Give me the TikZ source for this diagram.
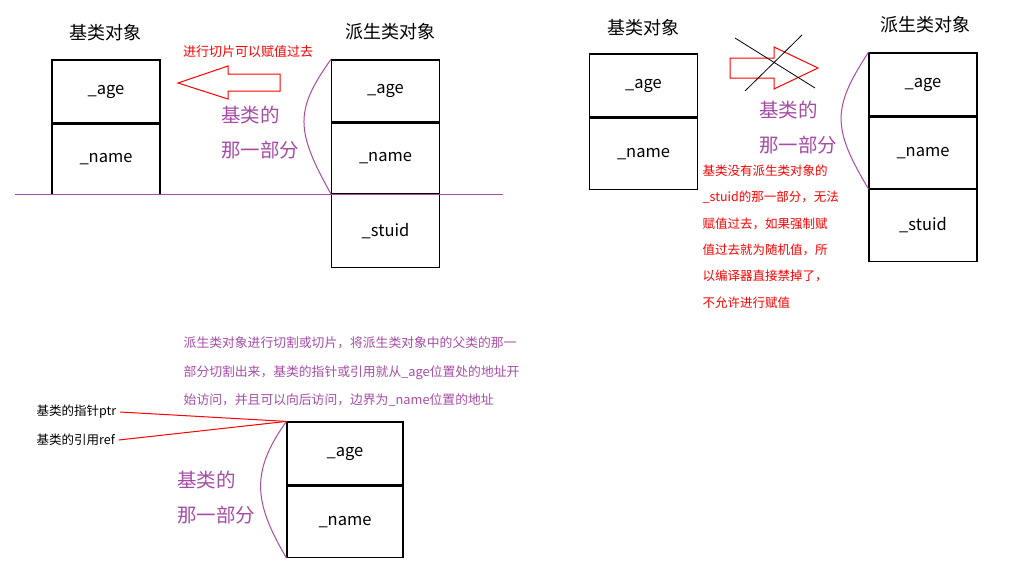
\documentclass[tikz,border=0pt]{standalone}
\usepackage{fontspec}
\setmainfont{Noto Sans CJK SC}
\usetikzlibrary{positioning}
\begin{document}
\begin{tikzpicture}[x=1pt,y=-1pt,thick,
		cell/.style={draw,line width=1.2pt,minimum width=108pt,minimum height=65pt,inner sep=0pt,font=\fontsize{16.5}{18}\selectfont},
		title/.style={font=\fontsize{18}{20}\selectfont},
		part/.style={text=violet!70,font=\fontsize{19.5}{35}\selectfont,align=left},
		note/.style={anchor=north west,align=left,font=\fontsize{12.5}{20}\selectfont},
		brace/.style={violet!70,line width=1pt},
		slice/.style={draw=red,line width=1pt}]
\useasboundingbox (0,0) rectangle (1022,570);

% left: slicing allowed
\node[cell,minimum height=63pt] (LA) at (106,91.5) {\_age};
\node[cell,minimum height=70pt] (LN) [below=0pt of LA] {\_name};
\node[title] (LT) at (105,33) {基类对象};
\node[cell,minimum height=62pt] (DA) at (385.5,91) {\_age};
\node[cell,minimum height=70pt] (DN) [below=0pt of DA] {\_name};
\node[cell,minimum height=73pt] (DS) [below=0pt of DN] {\_stuid};
\node[title] (DT) at (390,32) {派生类对象};
\node[text=red,font=\fontsize{13}{15}\selectfont] (LM) at (248,52) {进行切片可以赋值过去};
\node[part] (LP) at (260,133) {基类的\\那一部分};
\draw[violet!70,line width=1pt] (15,194) -- (503,194);
\draw[slice] (178,83) -- (228,66) -- (228,74) -- (280,74) -- (280,91) -- (228,91) -- (228,99) -- cycle;
\draw[brace] (DA.north west) .. controls (295,110) and (295,130) .. (DN.south west);

% right: slicing refused
\node[cell,minimum height=63pt] (RA) at (643.5,85.5) {\_age};
\node[cell,minimum height=71pt] (RN) [below=0pt of RA] {\_name};
\node[title] (RT) at (643,28) {基类对象};
\node[cell,minimum height=63pt] (EA) at (923,84.5) {\_age};
\node[cell,minimum height=71pt] (EN) [below=0pt of EA] {\_name};
\node[cell,minimum height=72pt] (ES) [below=0pt of EN] {\_stuid};
\node[title] (ET) at (925,25) {派生类对象};
\draw[slice] (730,58) -- (774,58) -- (774,47) -- (818,68) -- (774,89) -- (774,78) -- (730,78) -- cycle;
\coordinate (X1) at (735,38);
\coordinate (X2) at (815,88);
\coordinate (X3) at (745,91);
\coordinate (X4) at (802,35);
\draw[line width=0.8pt] (X1) -- (X2) (X3) -- (X4);
\node[part] (RP) at (798,128) {基类的\\那一部分};
\draw[brace] (EA.north west) .. controls (832,108) and (832,128) .. (EN.south west);
\node[note,text=red,font=\fontsize{12.5}{26.4}\selectfont] (RM) at (699,161) {基类没有派生类对象的\\\_stuid的那一部分，无法\\赋值过去，如果强制赋\\值过去就为随机值，所\\以编译器直接禁掉了，\\不允许进行赋值};

% bottom: pointer and reference
\node[cell,minimum width=116pt,minimum height=63pt] (BA) at (345,453.5) {\_age};
\node[cell,minimum width=116pt,minimum height=71pt] (BN) [below=0pt of BA] {\_name};
\node[note,text=violet!70,font=\fontsize{12.8}{28.5}\selectfont] (BM) at (180,333) {派生类对象进行切割或切片，将派生类对象中的父类的那一\\部分切割出来，基类的指针或引用就从\_age位置处的地址开\\始访问，并且可以向后访问，边界为\_name位置的地址};
\node[font=\fontsize{12.5}{14}\selectfont,anchor=west] (PTR) at (33,412) {基类的指针ptr};
\node[font=\fontsize{12.5}{14}\selectfont,anchor=west] (REF) at (33,440) {基类的引用ref};
\draw[red,line width=1pt] (PTR.east) -- (BA.north west);
\draw[red,line width=1pt] (REF.east) -- (BA.north west);
\node[part] (BP) at (216,498) {基类的\\那一部分};
\draw[brace] (BA.north west) .. controls (252,470) and (252,500) .. (BN.south west);
\end{tikzpicture}
\end{document}
